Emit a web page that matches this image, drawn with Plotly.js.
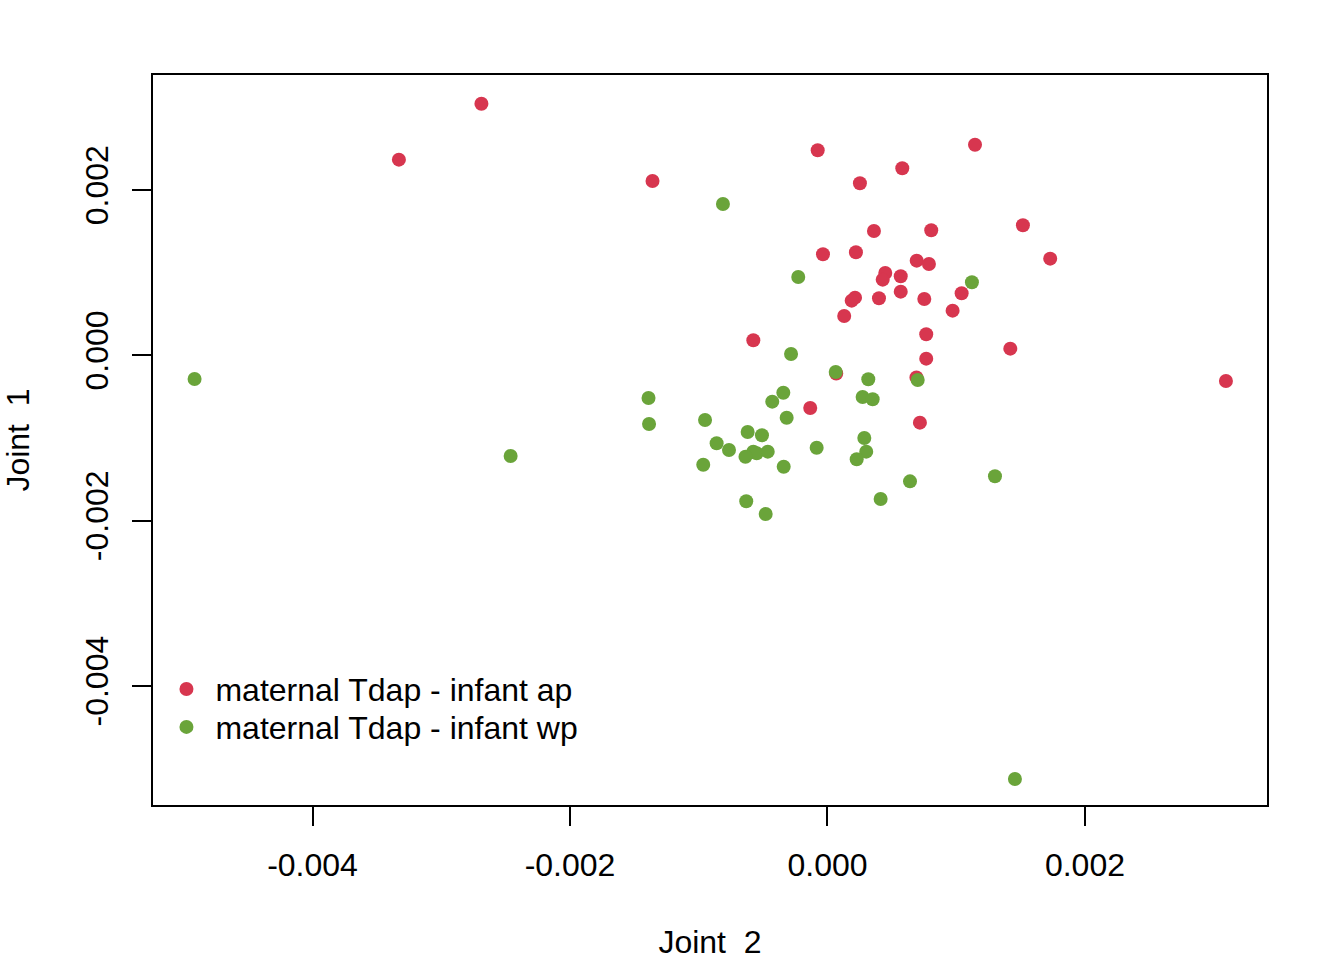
<!DOCTYPE html>
<html>
<head>
<meta charset="utf-8">
<script src="https://cdn.plot.ly/plotly-3.0.1.min.js"></script>
<style>
body { margin: 0; background: #fff; }
#plot { width: 1344px; height: 960px; }
</style>
</head>
<body>
<div id="plot"></div>
<script>
const apName = "maternal Tdap - infant ap";
const wpName = "maternal Tdap - infant wp";

const apX = [-0.002688, -0.003329, -0.001359, -0.000076, 0.001146, 0.000581, 0.000252, 0.001518, 0.000361, 0.000806,
	-0.000035, 0.000221, 0.001730, 0.000693, 0.000788, 0.000449, 0.000429, 0.000569, 0.000569, 0.000214,
	0.000188, 0.000400, 0.000752, 0.001042, 0.000972, 0.000130, -0.000576, 0.000767, 0.001420, 0.000767,
	0.003095, 0.000068, 0.000691, -0.000134, 0.000718];
const apY = [0.003044, 0.002367, 0.002109, 0.002480, 0.002548, 0.002263, 0.002081, 0.001573, 0.001504, 0.001512,
	0.001222, 0.001246, 0.001169, 0.001145, 0.001105, 0.000996, 0.000915, 0.000956, 0.000770, 0.000697,
	0.000661, 0.000690, 0.000681, 0.000750, 0.000540, 0.000476, 0.000181, 0.000254, 0.000080, -0.000041,
	-0.000311, -0.000220, -0.000269, -0.000638, -0.000815];

const wpX = [-0.004916, -0.000812, -0.000227, 0.001122, -0.000283, 0.000064, 0.000317, 0.000701, -0.001390, -0.000343,
	-0.000429, 0.000273, 0.000351, -0.000951, -0.000317, -0.001386, -0.000620, -0.000509, 0.000286, -0.000861,
	-0.000765, -0.000576, -0.000550, -0.000464, -0.000637, -0.000084, 0.000301, 0.000227, -0.000965, -0.000340,
	-0.002461, 0.001301, 0.000641, 0.000413, -0.000631, -0.000480, 0.001456];
const wpY = [-0.000287, 0.001831, 0.000947, 0.000883, 0.000016, -0.000202, -0.000290, -0.000299, -0.000517, -0.000453,
	-0.000561, -0.000505, -0.000532, -0.000783, -0.000755, -0.000831, -0.000928, -0.000968, -0.001001, -0.001065,
	-0.001146, -0.001166, -0.001186, -0.001166, -0.001228, -0.001118, -0.001166, -0.001258, -0.001324, -0.001349,
	-0.001218, -0.001464, -0.001525, -0.001739, -0.001766, -0.001920, -0.005126];

const xTicks = [-0.004, -0.002, 0, 0.002];
const xTickText = ["-0.004", "-0.002", "0.000", "0.002"];
const yTicks = [-0.004, -0.002, 0, 0.002];
const yTickText = ["-0.004", "-0.002", "0.000", "0.002"];

const font = "Liberation Sans, Arial, Helvetica, sans-serif";

// one legend per series so the rows sit as close as in R
const data = [{
		type: 'scatter',
		mode: 'markers',
		x: apX,
		y: apY,
		name: apName,
		legend: 'legend',
		marker: { color: '#D7364F', size: 14 }
	},
	{
		type: 'scatter',
		mode: 'markers',
		x: wpX,
		y: wpY,
		name: wpName,
		legend: 'legend2',
		marker: { color: '#6AA43A', size: 14 }
	}
];

const axisStyle = {
	showgrid: false,
	zeroline: false,
	showline: true,
	mirror: true,
	linecolor: '#000',
	linewidth: 2,
	ticks: 'outside',
	ticklen: 19,
	tickwidth: 2,
	tickcolor: '#000',
	tickfont: { family: font, size: 32, color: '#000' },
	tickmode: 'array'
};

const legendStyle = {
	x: 0.004,
	xanchor: 'left',
	yanchor: 'top',
	bgcolor: 'rgba(0,0,0,0)',
	borderwidth: 0,
	itemwidth: 48,
	font: { family: font, size: 32, color: '#000' }
};

const layout = {
	width: 1344,
	height: 960,
	margin: { l: 153, r: 77, t: 75, b: 155, pad: 0 },
	paper_bgcolor: '#fff',
	plot_bgcolor: '#fff',
	font: { family: font, size: 32, color: '#000' },
	showlegend: true,
	xaxis: Object.assign({}, axisStyle, {
		range: [-0.005239, 0.003414],
		tickvals: xTicks,
		ticktext: xTickText,
		ticklabelstandoff: 12,
		title: { text: "Joint  2", font: { family: font, size: 32, color: '#000' }, standoff: 50 }
	}),
	yaxis: Object.assign({}, axisStyle, {
		range: [-0.005441, 0.003391],
		tickvals: yTicks,
		ticktext: yTickText,
		tickangle: -90,
		ticklabelstandoff: 11,
		title: { text: "Joint  1", font: { family: font, size: 32, color: '#000' }, standoff: 55 }
	}),
	legend: Object.assign({}, legendStyle, { y: 0.1964 }),
	legend2: Object.assign({}, legendStyle, { y: 0.1444 })
};

Plotly.newPlot('plot', data, layout, { staticPlot: true });
</script>
</body>
</html>
